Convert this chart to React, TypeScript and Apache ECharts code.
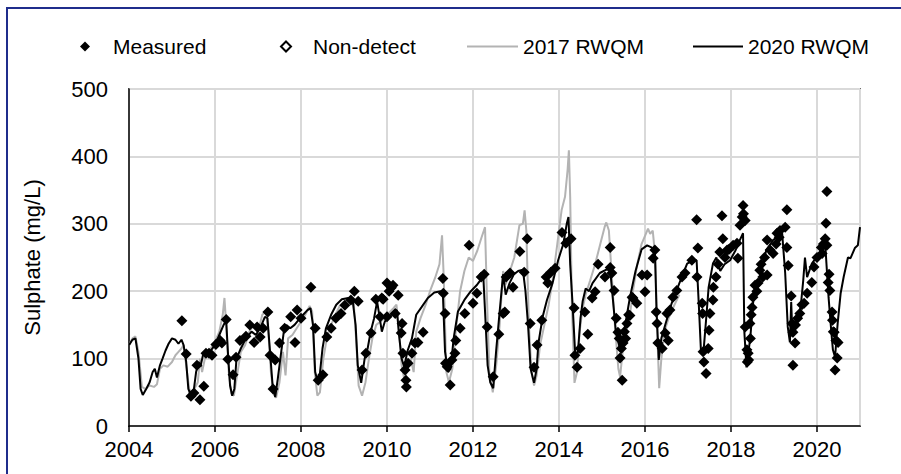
import React, { useEffect, useRef } from "react";
import * as echarts from "echarts";

// ---- Data (x = decimal year, y = sulphate mg/L) ----
const yearTicks = [2004, 2006, 2008, 2010, 2012, 2014, 2016, 2018, 2020];

const rwqm2020_a: number[][] = [
  [2004.0, 120], [2004.08, 128], [2004.15, 130], [2004.22, 100], [2004.27, 55], [2004.32, 46], [2004.4, 55],
  [2004.48, 65], [2004.55, 80], [2004.6, 85], [2004.65, 72], [2004.72, 90], [2004.78, 100], [2004.85, 112],
  [2004.92, 122], [2005.0, 130], [2005.08, 128], [2005.15, 122], [2005.22, 128], [2005.27, 120], [2005.33, 95],
  [2005.38, 55], [2005.44, 45], [2005.5, 50], [2005.56, 80], [2005.62, 95], [2005.66, 88], [2005.72, 105],
  [2005.8, 108], [2005.9, 112], [2006.0, 120], [2006.1, 135], [2006.2, 150], [2006.26, 157], [2006.3, 110],
  [2006.35, 60], [2006.4, 45], [2006.45, 55], [2006.5, 100], [2006.6, 115], [2006.72, 130], [2006.85, 140],
  [2006.95, 135], [2007.05, 145], [2007.16, 162], [2007.22, 160], [2007.28, 110], [2007.34, 60], [2007.4, 43],
  [2007.46, 70], [2007.52, 100], [2007.6, 140], [2007.66, 150], [2007.75, 145], [2007.85, 150], [2007.95, 158],
  [2008.05, 165], [2008.15, 172], [2008.22, 175], [2008.28, 150], [2008.33, 80], [2008.38, 68], [2008.44, 78],
  [2008.5, 115], [2008.58, 145], [2008.7, 165], [2008.82, 180], [2008.95, 188], [2009.1, 190], [2009.2, 187],
  [2009.27, 150], [2009.32, 90], [2009.4, 64], [2009.48, 100], [2009.55, 115], [2009.62, 140], [2009.7, 160],
  [2009.77, 185], [2009.82, 165], [2009.88, 140], [2009.95, 155], [2010.05, 162], [2010.15, 168], [2010.23, 172],
  [2010.28, 135], [2010.34, 100], [2010.4, 88], [2010.48, 112], [2010.58, 130], [2010.68, 165], [2010.8, 176],
  [2010.95, 190], [2011.1, 198], [2011.25, 200], [2011.3, 195], [2011.35, 110], [2011.42, 80], [2011.48, 85],
  [2011.55, 130], [2011.65, 170], [2011.8, 187], [2011.95, 200], [2012.1, 210], [2012.24, 222],
];
const rwqm2020_b: number[][] = [
  [2012.28, 170], [2012.34, 90], [2012.4, 65], [2012.47, 56], [2012.54, 113], [2012.62, 170], [2012.7, 225],
  [2012.76, 195], [2012.85, 212], [2012.95, 225], [2013.05, 230], [2013.16, 232], [2013.22, 200], [2013.28, 150],
  [2013.34, 85], [2013.42, 64], [2013.48, 85], [2013.52, 122], [2013.62, 162], [2013.72, 187], [2013.85, 212],
  [2013.98, 246], [2014.1, 270], [2014.18, 300], [2014.22, 310], [2014.26, 240], [2014.32, 176], [2014.38, 102],
  [2014.44, 110], [2014.5, 160], [2014.55, 185], [2014.62, 204], [2014.7, 200], [2014.78, 212], [2014.95, 227],
  [2015.1, 232], [2015.19, 232], [2015.25, 190], [2015.32, 142], [2015.42, 113], [2015.5, 135], [2015.58, 165],
  [2015.65, 191], [2015.78, 230], [2015.92, 262], [2016.05, 268], [2016.15, 265], [2016.23, 260], [2016.27, 168],
  [2016.32, 98], [2016.38, 130], [2016.48, 152], [2016.62, 182], [2016.8, 212], [2016.98, 241], [2017.1, 245],
  [2017.2, 246], [2017.25, 182], [2017.3, 113], [2017.36, 110], [2017.42, 157], [2017.48, 206], [2017.58, 241],
  [2017.66, 250], [2017.75, 230], [2017.85, 240], [2017.98, 246], [2018.1, 260], [2018.2, 275], [2018.28, 286],
  [2018.31, 140], [2018.36, 87], [2018.45, 132], [2018.52, 187], [2018.68, 221], [2018.82, 261], [2018.98, 276],
  [2019.19, 286], [2019.26, 227], [2019.32, 147], [2019.37, 124], [2019.4, 184], [2019.43, 132], [2019.52, 152],
  [2019.62, 176], [2019.68, 216], [2019.72, 250], [2019.77, 221], [2019.88, 241], [2020.05, 256], [2020.15, 265],
  [2020.19, 271], [2020.27, 190], [2020.33, 142], [2020.37, 113], [2020.42, 102], [2020.48, 152], [2020.55, 197],
  [2020.62, 221], [2020.72, 250], [2020.78, 249], [2020.88, 264], [2020.95, 268], [2021.0, 295],
];

const rwqm2017_a: number[][] = [
  [2004.0, 120], [2004.08, 130], [2004.15, 133], [2004.22, 110], [2004.3, 58], [2004.38, 55], [2004.48, 60],
  [2004.58, 58], [2004.65, 62], [2004.72, 85], [2004.8, 90], [2004.9, 88], [2005.0, 95], [2005.08, 105],
  [2005.15, 110], [2005.22, 115], [2005.27, 120], [2005.33, 90], [2005.4, 55], [2005.46, 48], [2005.52, 55],
  [2005.6, 65], [2005.65, 100], [2005.7, 80], [2005.78, 105], [2005.9, 115], [2006.0, 125], [2006.1, 140],
  [2006.18, 165], [2006.22, 190], [2006.26, 150], [2006.32, 80], [2006.38, 48], [2006.44, 45], [2006.5, 70],
  [2006.6, 110], [2006.7, 120], [2006.8, 140], [2006.9, 150], [2007.0, 140], [2007.1, 165], [2007.18, 170],
  [2007.24, 140], [2007.3, 80], [2007.36, 48], [2007.42, 42], [2007.5, 65], [2007.58, 110], [2007.64, 75],
  [2007.7, 130], [2007.8, 135], [2007.9, 145], [2008.0, 155], [2008.1, 165], [2008.2, 178], [2008.26, 170],
  [2008.32, 80], [2008.38, 45], [2008.44, 50], [2008.52, 100], [2008.6, 130], [2008.7, 150], [2008.8, 165],
  [2008.9, 178], [2009.0, 185], [2009.12, 188], [2009.22, 190], [2009.28, 130], [2009.34, 60], [2009.42, 45],
  [2009.5, 65], [2009.58, 100], [2009.66, 130], [2009.75, 150], [2009.85, 155], [2009.95, 160], [2010.05, 168],
  [2010.15, 175], [2010.22, 180], [2010.28, 140], [2010.34, 90], [2010.4, 70], [2010.46, 80], [2010.55, 100],
  [2010.62, 80], [2010.68, 140], [2010.78, 160], [2010.9, 180],
];
const rwqm2017_b: number[][] = [
  [2011.0, 200], [2011.12, 220], [2011.22, 240], [2011.28, 283], [2011.32, 220], [2011.38, 80], [2011.44, 65],
  [2011.52, 85], [2011.6, 140], [2011.7, 200], [2011.8, 230], [2011.9, 250], [2012.0, 245], [2012.1, 260],
  [2012.2, 280], [2012.28, 295], [2012.32, 200], [2012.38, 80], [2012.46, 50], [2012.54, 90], [2012.62, 150],
  [2012.7, 230], [2012.76, 210], [2012.86, 230], [2012.96, 250], [2013.08, 298], [2013.16, 300], [2013.2, 320],
  [2013.24, 290], [2013.3, 150], [2013.36, 80], [2013.42, 60], [2013.48, 75], [2013.56, 120], [2013.66, 150],
  [2013.76, 180], [2013.86, 220], [2013.96, 270], [2014.06, 320], [2014.14, 340], [2014.2, 380], [2014.23, 409],
  [2014.26, 340], [2014.3, 180], [2014.36, 64], [2014.42, 80], [2014.48, 140], [2014.55, 175], [2014.62, 195],
  [2014.72, 215], [2014.84, 240], [2014.96, 270], [2015.06, 295], [2015.1, 302], [2015.16, 290], [2015.22, 230],
  [2015.3, 150], [2015.38, 85], [2015.42, 73], [2015.48, 110], [2015.56, 150], [2015.64, 160], [2015.72, 200],
  [2015.82, 240], [2015.92, 270], [2016.02, 285], [2016.07, 293], [2016.12, 285], [2016.18, 290], [2016.24, 250],
  [2016.28, 150], [2016.33, 56], [2016.38, 100], [2016.45, 140], [2016.55, 160], [2016.65, 175], [2016.8, 195],
];

const measured_a: number[][] = [
  [2005.23, 156], [2005.33, 107], [2005.44, 44], [2005.51, 49], [2005.58, 90], [2005.65, 39], [2005.74, 59],
  [2005.79, 108], [2005.86, 108], [2005.93, 105], [2006.02, 121], [2006.12, 127], [2006.16, 123], [2006.26, 158],
  [2006.3, 99], [2006.42, 76], [2006.49, 102], [2006.58, 127], [2006.72, 133], [2006.81, 150], [2006.91, 124],
  [2006.98, 147], [2007.05, 132], [2007.12, 145], [2007.23, 169], [2007.28, 105], [2007.35, 55], [2007.4, 98],
  [2007.5, 123], [2007.62, 145], [2007.76, 162], [2007.86, 124], [2007.91, 172], [2008.0, 160], [2008.23, 206],
  [2008.33, 145], [2008.4, 68], [2008.51, 76], [2008.6, 132], [2008.7, 145], [2008.81, 160], [2008.93, 167],
  [2009.02, 179], [2009.16, 187], [2009.24, 200], [2009.33, 185], [2009.42, 83], [2009.51, 108], [2009.63, 138],
  [2009.74, 188], [2009.84, 162], [2009.91, 188], [2009.88, 190], [2010.0, 212], [2010.05, 200], [2010.1, 205],
  [2010.14, 209], [2010.26, 194], [2010.0, 162], [2010.19, 167], [2010.35, 152], [2010.33, 138], [2010.37, 108],
  [2010.42, 83], [2010.44, 68], [2010.45, 58], [2010.49, 93], [2010.58, 108], [2010.65, 123], [2010.72, 124],
  [2010.84, 139],
];
const measured_b: number[][] = [
  [2011.3, 219], [2011.31, 197], [2011.35, 167], [2011.36, 93], [2011.4, 88], [2011.47, 61], [2011.51, 98],
  [2011.58, 108], [2011.6, 127], [2011.7, 145], [2011.81, 167], [2011.91, 268], [2012.0, 182], [2012.09, 197],
  [2012.19, 221], [2012.26, 225], [2012.33, 147], [2012.47, 73], [2012.6, 136], [2012.7, 167], [2012.77, 221],
  [2012.74, 169], [2012.86, 227], [2012.93, 206], [2013.09, 259], [2013.19, 228], [2013.26, 278], [2013.33, 152],
  [2013.42, 87], [2013.49, 120], [2013.6, 157], [2013.7, 221], [2013.74, 212], [2013.81, 228], [2013.91, 234],
  [2014.07, 287], [2014.16, 271], [2014.28, 278], [2014.35, 175], [2014.37, 105], [2014.42, 87], [2014.49, 115],
  [2014.6, 169], [2014.67, 136], [2014.77, 190], [2014.84, 199], [2014.91, 240], [2015.07, 221], [2015.19, 265],
  [2015.19, 235], [2015.23, 227], [2015.28, 201], [2015.33, 160], [2015.37, 139], [2015.4, 130], [2015.42, 101],
  [2015.45, 115], [2015.47, 68], [2015.49, 123], [2015.52, 140], [2015.55, 130], [2015.58, 152], [2015.62, 165],
  [2015.7, 191],
];
const measured_c: number[][] = [
  [2015.65, 164], [2015.72, 190], [2015.81, 182], [2015.93, 224], [2016.0, 199], [2016.05, 224], [2016.19, 249],
  [2016.23, 261], [2016.26, 169], [2016.28, 152], [2016.3, 123], [2016.4, 115], [2016.47, 138], [2016.51, 167],
  [2016.54, 127], [2016.58, 172], [2016.65, 191], [2016.74, 201], [2016.86, 221], [2016.93, 227], [2017.09, 246],
  [2017.2, 306], [2017.23, 264], [2017.21, 221], [2017.33, 182], [2017.34, 167], [2017.35, 110], [2017.37, 95],
  [2017.42, 78], [2017.47, 115], [2017.49, 142], [2017.51, 167], [2017.58, 187], [2017.59, 206], [2017.65, 221],
  [2017.7, 240], [2017.74, 258], [2017.79, 312], [2017.81, 278], [2017.86, 250], [2017.91, 261], [2017.95, 262],
  [2018.05, 268], [2018.14, 271], [2018.16, 249], [2018.21, 298], [2018.26, 310], [2018.28, 327], [2018.29, 315],
  [2018.33, 305], [2018.33, 147], [2018.37, 113], [2018.38, 95], [2018.4, 108], [2018.41, 98],
];
const measured_d: number[][] = [
  [2018.44, 152], [2018.45, 130], [2018.47, 165], [2018.49, 176], [2018.51, 191], [2018.56, 209], [2018.6, 200],
  [2018.63, 212], [2018.67, 231], [2018.7, 240], [2018.74, 221], [2018.78, 250], [2018.84, 224], [2018.84, 276],
  [2018.91, 261], [2018.98, 256], [2019.05, 270], [2019.07, 286], [2019.12, 280], [2019.14, 290], [2019.26, 295],
  [2019.3, 321], [2019.3, 265], [2019.33, 238], [2019.4, 193], [2019.42, 152], [2019.44, 139], [2019.44, 90],
  [2019.49, 123], [2019.5, 150], [2019.55, 160], [2019.6, 167], [2019.65, 180], [2019.7, 182], [2019.77, 197],
  [2019.88, 213], [2019.93, 236], [2020.0, 250], [2020.1, 265], [2020.12, 256], [2020.15, 270], [2020.19, 278],
  [2020.21, 301], [2020.23, 348], [2020.23, 268], [2020.26, 213], [2020.28, 225], [2020.3, 201], [2020.35, 169],
  [2020.36, 157], [2020.38, 140], [2020.4, 139], [2020.44, 127], [2020.49, 124], [2020.47, 101], [2020.42, 83],
];

const nonDetect: number[][] = [];

const rwqm2020 = [...rwqm2020_a, ...rwqm2020_b];
const rwqm2017 = [...rwqm2017_a, ...rwqm2017_b];
const measured = [...measured_a, ...measured_b, ...measured_c, ...measured_d];

const FONT = "Liberation Sans, Arial, sans-serif";

export default function App() {
  const ref = useRef<HTMLDivElement>(null);
  useEffect(() => {
    if (!ref.current) return;
    const chart = echarts.init(ref.current, null, { renderer: "svg" });
    const legendText = { fontSize: 21, color: "#000", fontFamily: FONT };
    chart.setOption({
      animation: false,
      backgroundColor: "#ffffff",
      textStyle: { fontFamily: FONT },
      grid: {
        left: 129, top: 89, right: 41, bottom: 48,
        show: true, borderColor: "#000", borderWidth: 1.5, backgroundColor: "transparent",
      },
      legend: [
        {
          data: [{ name: "Measured", icon: "diamond" }], left: 75, top: 31, itemWidth: 10, itemHeight: 10,
          textStyle: { ...legendText, padding: [0, 0, 0, 18] },
        },
        {
          data: [{ name: "Non-detect", icon: "diamond" }], left: 275, top: 31, itemWidth: 10, itemHeight: 10,
          textStyle: { ...legendText, padding: [0, 0, 0, 17] },
        },
        {
          data: [{ name: "2017 RWQM", icon: "rect" }], left: 462, top: 31, itemWidth: 51, itemHeight: 2,
          textStyle: legendText,
        },
        {
          data: [{ name: "2020 RWQM", icon: "rect" }], left: 688, top: 31, itemWidth: 50, itemHeight: 2,
          textStyle: legendText,
        },
      ],
      xAxis: {
        type: "value", min: 2004, max: 2021, interval: 2,
        axisLine: { show: true, lineStyle: { color: "#000", width: 1.5 } },
        axisTick: { show: true, length: 6, lineStyle: { color: "#000", width: 1.5 } },
        axisLabel: {
          fontSize: 22, color: "#000", fontFamily: FONT, margin: 12, showMaxLabel: false,
          formatter: (v: number) => (yearTicks.includes(v) ? String(v) : ""),
        },
        splitLine: { show: true, lineStyle: { color: "#d9d9d9", width: 2 } },
      },
      yAxis: {
        type: "value", min: 0, max: 500, interval: 100,
        name: "Sulphate (mg/L)", nameLocation: "middle", nameGap: 86, nameRotate: 90,
        nameTextStyle: { fontSize: 22, color: "#000", fontFamily: FONT },
        axisLine: { show: true, lineStyle: { color: "#000", width: 1.5 } },
        axisTick: { show: false },
        axisLabel: { fontSize: 22, color: "#000", fontFamily: FONT, margin: 21 },
        splitLine: { show: true, lineStyle: { color: "#d9d9d9", width: 2 } },
      },
      graphic: [
        {
          type: "rect", silent: true, z: 100,
          shape: { x: 7, y: 8, width: 1000, height: 1000 },
          style: { fill: "none", stroke: "#1f2d8c", lineWidth: 2 },
        },
      ],
      series: [
        {
          name: "2017 RWQM", type: "line", data: rwqm2017, symbol: "none",
          lineStyle: { color: "#b3b3b3", width: 2 }, itemStyle: { color: "#b3b3b3" }, z: 2,
        },
        {
          name: "2020 RWQM", type: "line", data: rwqm2020, symbol: "none",
          lineStyle: { color: "#000", width: 2 }, itemStyle: { color: "#000" }, z: 3,
        },
        {
          name: "Measured", type: "scatter", data: measured, symbol: "diamond", symbolSize: 11,
          itemStyle: { color: "#000", opacity: 1 }, z: 4,
        },
        {
          name: "Non-detect", type: "scatter", data: nonDetect, symbol: "diamond", symbolSize: 11,
          itemStyle: { color: "#fff", borderColor: "#000", borderWidth: 1.5, opacity: 1 }, z: 5,
        },
      ],
    });
    return () => chart.dispose();
  }, []);
  return (
    <div
      ref={ref}
      style={{ position: "fixed", left: 0, top: 0, width: 901, height: 474 }}
    />
  );
}
